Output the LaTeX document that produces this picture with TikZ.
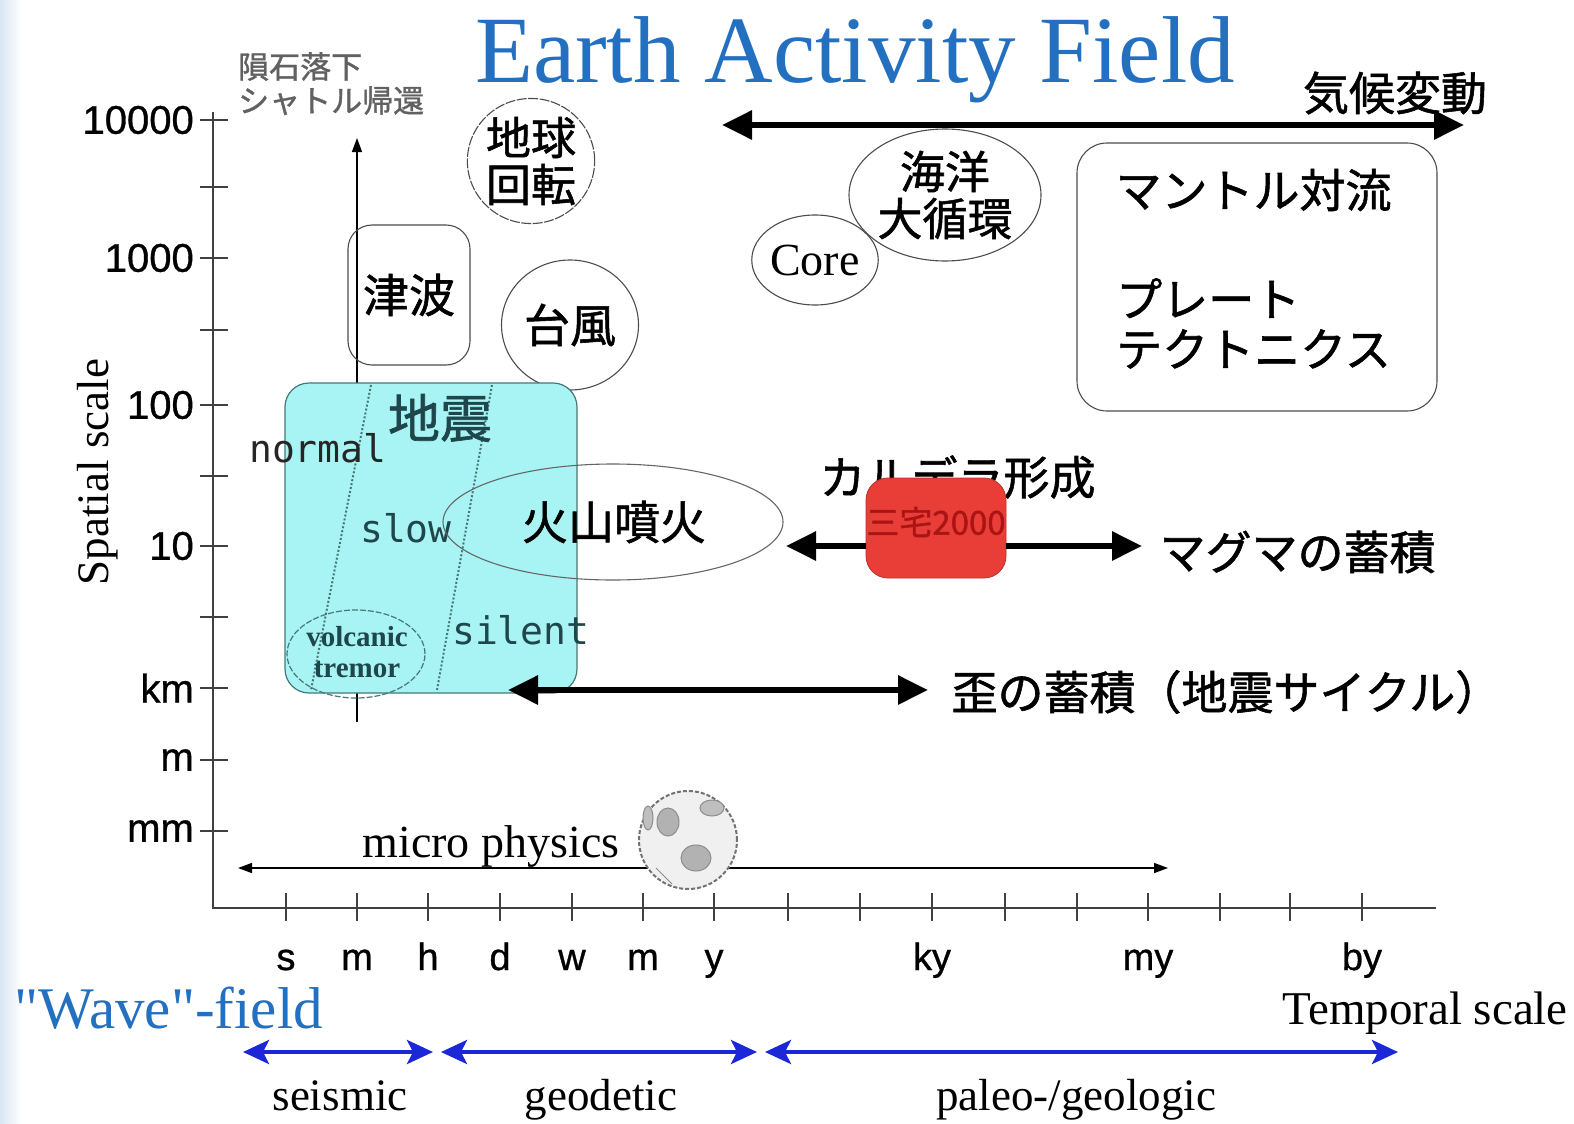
\documentclass[tikz,border=0pt]{standalone}
\usepackage{fontspec}
\setmainfont{Liberation Serif}
\setsansfont{Liberation Sans}
\setmonofont{DejaVu Sans Mono}
\newfontfamily\jpfont[FakeBold=1.2]{Noto Sans CJK JP}
\newfontfamily\axisfont[FakeBold=0.8]{Liberation Sans}
\usetikzlibrary{arrows.meta,shapes.geometric}
\definecolor{titleblue}{RGB}{36,112,192}
\definecolor{fieldblue}{RGB}{28,40,215}
\definecolor{quakecyan}{RGB}{168,244,244}
\definecolor{quakeedge}{RGB}{70,120,120}
\definecolor{quaketext}{RGB}{30,70,75}
\definecolor{miyakered}{RGB}{232,62,55}
\definecolor{miyaketext}{RGB}{170,20,20}
\definecolor{edgeblue}{RGB}{218,230,244}
\begin{document}
\begin{tikzpicture}[x=1pt,y=-1pt,
  jp/.style={font=\jpfont\fontsize{46}{54}\selectfont},
  jpsmall/.style={font=\jpfont\fontsize{31}{34}\selectfont},
  serif/.style={font=\rmfamily\fontsize{#1}{#1}\selectfont},
  axislbl/.style={font=\axisfont\fontsize{40}{44}\selectfont},
  mono/.style={font=\ttfamily\fontsize{38}{40}\selectfont},
  thinline/.style={draw=black!75, line width=1.2pt},
  bubble/.style={draw=black!70, line width=1.1pt, ellipse, inner sep=0pt},
  bigarrow/.style={line width=6pt, {Triangle[length=30pt,width=28pt]}-{Triangle[length=30pt,width=28pt]}},
  bigright/.style={line width=6pt, -{Triangle[length=30pt,width=28pt]}},
  bigleft/.style={line width=6pt, {Triangle[length=30pt,width=28pt]}-},
  bluearrow/.style={draw=fieldblue, line width=4pt, {Stealth[length=26pt,width=24pt,inset=6pt]}-{Stealth[length=26pt,width=24pt,inset=6pt]}},
  tickmark/.style={draw=black!75, line width=1.3pt}
]
\useasboundingbox (0,0) rectangle (1574,1124);
\fill[white] (0,0) rectangle (1574,1124);
% soft blue band at the left edge
\shade[left color=edgeblue, right color=white] (0,0) rectangle (22,1124);

% title
\node[serif=95, text=titleblue, anchor=base] (title) at (855,82) {Earth Activity Field};

% axes
\coordinate (origin) at (213,908);
\coordinate (ytop) at (213,112);
\coordinate (xend) at (1436,908);
\draw[thinline] (ytop) -- (origin) -- (xend);

% vertical ticks and labels
\foreach \yy/\lab in {120/10000,258/1000,405/100,546/10,688/km,760/m,831/mm}{
  \draw[tickmark] (200,\yy) -- (228,\yy);
  \node[axislbl, anchor=east, inner sep=0pt] at (194,\yy) {\lab};
}
\foreach \yy in {187,330,476,617}{\draw[tickmark] (200,\yy) -- (228,\yy);}

% horizontal ticks and labels
\foreach \xx in {286,357,428,500,572,643,714,788,860,932,1005,1077,1148,1220,1290,1362}{
  \draw[tickmark] (\xx,893) -- (\xx,921);
}
\foreach \xx/\lab in {286/s,357/m,428/h,500/d,572/w,643/m,714/y,932/ky,1148/my,1362/by}{
  \node[font=\axisfont\fontsize{38}{40}\selectfont, anchor=base, inner sep=0pt] at (\xx,970) {\lab};
}

% axis titles
\node[serif=45, rotate=90] (yname) at (98,472) {Spatial scale};
\node[serif=47, anchor=base east, inner sep=0pt] (xname) at (1568,1024) {Temporal scale};

% meteorite / shuttle note and its range arrow
\node[jpsmall, text=black!62, align=left, anchor=north west, inner sep=0pt] (meteor) at (238,52) {隕石落下\\シャトル帰還};
\coordinate (metlow) at (357,722);
\coordinate (methigh) at (357,138);
\draw[line width=1.5pt, -{Triangle[length=14pt,width=10pt]}] (metlow) -- (methigh);

% climate change arrow
\coordinate (climL) at (722,125);
\coordinate (climR) at (1464,125);
\draw[bigarrow] (climL) -- (climR);
\node[jp, anchor=center] (climate) at (1395,93) {気候変動};

% earth rotation
\node[bubble, minimum width=118pt, minimum height=114pt, font=\jpfont\fontsize{45}{47}\selectfont, align=center, dashed, dash pattern=on 10pt off 1.5pt] (rotation) at (531,161) {地球\\回転};

% tsunami
\node[draw=black!70, line width=1.1pt, rounded corners=24pt, minimum width=122pt, minimum height=140pt, jp] (tsunami) at (409,295) {津波};

% typhoon
\node[bubble, minimum width=137pt, minimum height=130pt, jp] (typhoon) at (570,325) {台風};

% core
\node[bubble, minimum width=104pt, minimum height=90pt, serif=46] (core) at (815,260) {Core};

% ocean circulation
\node[bubble, minimum width=192pt, minimum height=132pt, font=\jpfont\fontsize{45}{47}\selectfont, align=center] (ocean) at (945,195) {海洋\\大循環};

% mantle box
\node[draw=black!70, line width=1.1pt, rounded corners=30pt, minimum width=360pt, minimum height=268pt] (mantle) at (1257,277) {};
\node[jp, anchor=west] (convection) at (1112,190) {マントル対流};
\node[jp, anchor=north west, align=left, inner sep=0pt, font=\jpfont\fontsize{46}{50}\selectfont] (plate) at (1116,278) {プレート\\テクトニクス};

% earthquake block
\node[draw=quakeedge, fill=quakecyan, line width=1.2pt, rounded corners=24pt, minimum width=292pt, minimum height=310pt] (quake) at (431,538) {};
\coordinate (dotAt) at (371,385);
\coordinate (dotAb) at (311,690);
\coordinate (dotBt) at (492,385);
\coordinate (dotBb) at (437,690);
\draw[quakeedge, line width=2pt, dotted] (dotAt) -- (dotAb);
\draw[quakeedge, line width=2pt, dotted] (dotBt) -- (dotBb);
\node[font=\jpfont\fontsize{52}{54}\selectfont, text=quaketext] (quakelbl) at (440,418) {地震};
\node[mono, text=black!85, anchor=base west, inner sep=0pt] (normal) at (249,462) {normal};
\node[mono, text=quaketext, anchor=base west, inner sep=0pt] (slow) at (360,542) {slow};
\node[mono, text=quaketext, anchor=base west, inner sep=0pt] (silent) at (452,644) {silent};
\node[draw=quakeedge, line width=1.2pt, dashed, dash pattern=on 6pt off 2pt, ellipse, minimum width=138pt, minimum height=88pt, inner sep=0pt] (tremor) at (356,654) {};
\node[text=quaketext, align=center, font=\rmfamily\bfseries\fontsize{29}{31}\selectfont] (tremortext) at (357,652) {volcanic\\tremor};

% volcanic eruption
\node[bubble, draw=black!60, minimum width=340pt, minimum height=116pt] (eruption) at (613,522) {};
\node[jp] (eruptlbl) at (614,522) {火山噴火};

% caldera, Miyake 2000 and magma storage
\node[jp, anchor=west] (caldera) at (816,477) {カルデラ形成};
\node[fill=miyakered, draw=miyakered!80!black, line width=0.8pt, rounded corners=22pt, minimum width=140pt, minimum height=100pt, inner sep=0pt] (miyake) at (936,528) {};
\node[font=\jpfont\fontsize{33}{35}\selectfont, text=miyaketext, inner sep=0pt] (miyakelbl) at (936,522) {三宅2000};
\coordinate (magL) at (786,546);
\coordinate (magR) at (1142,546);
\draw[bigleft] (magL) -- (miyake.west |- magL);
\draw[bigright] (miyake.east |- magR) -- (magR);
\node[jp, anchor=west] (magma) at (1156,552) {マグマの蓄積};

% strain accumulation
\coordinate (strainL) at (508,690);
\coordinate (strainR) at (928,690);
\draw[bigarrow] (strainL) -- (strainR);
\node[jp, anchor=west] (strain) at (948,692) {歪の蓄積（地震サイクル）};

% micro physics
\coordinate (microL) at (238,868);
\coordinate (microR) at (1168,868);
\draw[line width=1.5pt, {Triangle[length=14pt,width=10pt]}-{Triangle[length=14pt,width=10pt]}] (microL) -- (microR);
\node[serif=46, anchor=base] (micro) at (491,857) {micro physics};
\node[circle, draw=black!55, dashed, dash pattern=on 4pt off 2pt, line width=2pt, fill=black!6, minimum size=98pt, inner sep=0pt] (globe) at (688,840) {};
\fill[black!30, draw=black!45, line width=1pt] (668,822) ellipse (11 and 14);
\fill[black!30, draw=black!45, line width=1pt] (696,858) ellipse (15 and 13);
\fill[black!25, draw=black!45, line width=1pt] (712,808) ellipse (12 and 8);
\fill[black!25, draw=black!45, line width=1pt] (648,818) ellipse (5 and 12);
\draw[black!45, line width=1pt] (656,868) -- (672,884);

% observation fields
\node[serif=59, text=titleblue, anchor=base west, inner sep=0pt] (wavefield) at (14,1028) {\textquotedbl Wave\textquotedbl -field};
\coordinate (seisL) at (243,1052);
\coordinate (seisR) at (433,1052);
\coordinate (geoL) at (441,1052);
\coordinate (geoR) at (757,1052);
\coordinate (paleoL) at (765,1052);
\coordinate (paleoR) at (1398,1052);
\draw[bluearrow] (seisL) -- (seisR);
\draw[bluearrow] (geoL) -- (geoR);
\draw[bluearrow] (paleoL) -- (paleoR);
\node[serif=45, anchor=base] (seismic) at (340,1110) {seismic};
\node[serif=45, anchor=base] (geodetic) at (601,1110) {geodetic};
\node[serif=45, anchor=base] (paleo) at (1076,1110) {paleo-/geologic};
\end{tikzpicture}
\end{document}
